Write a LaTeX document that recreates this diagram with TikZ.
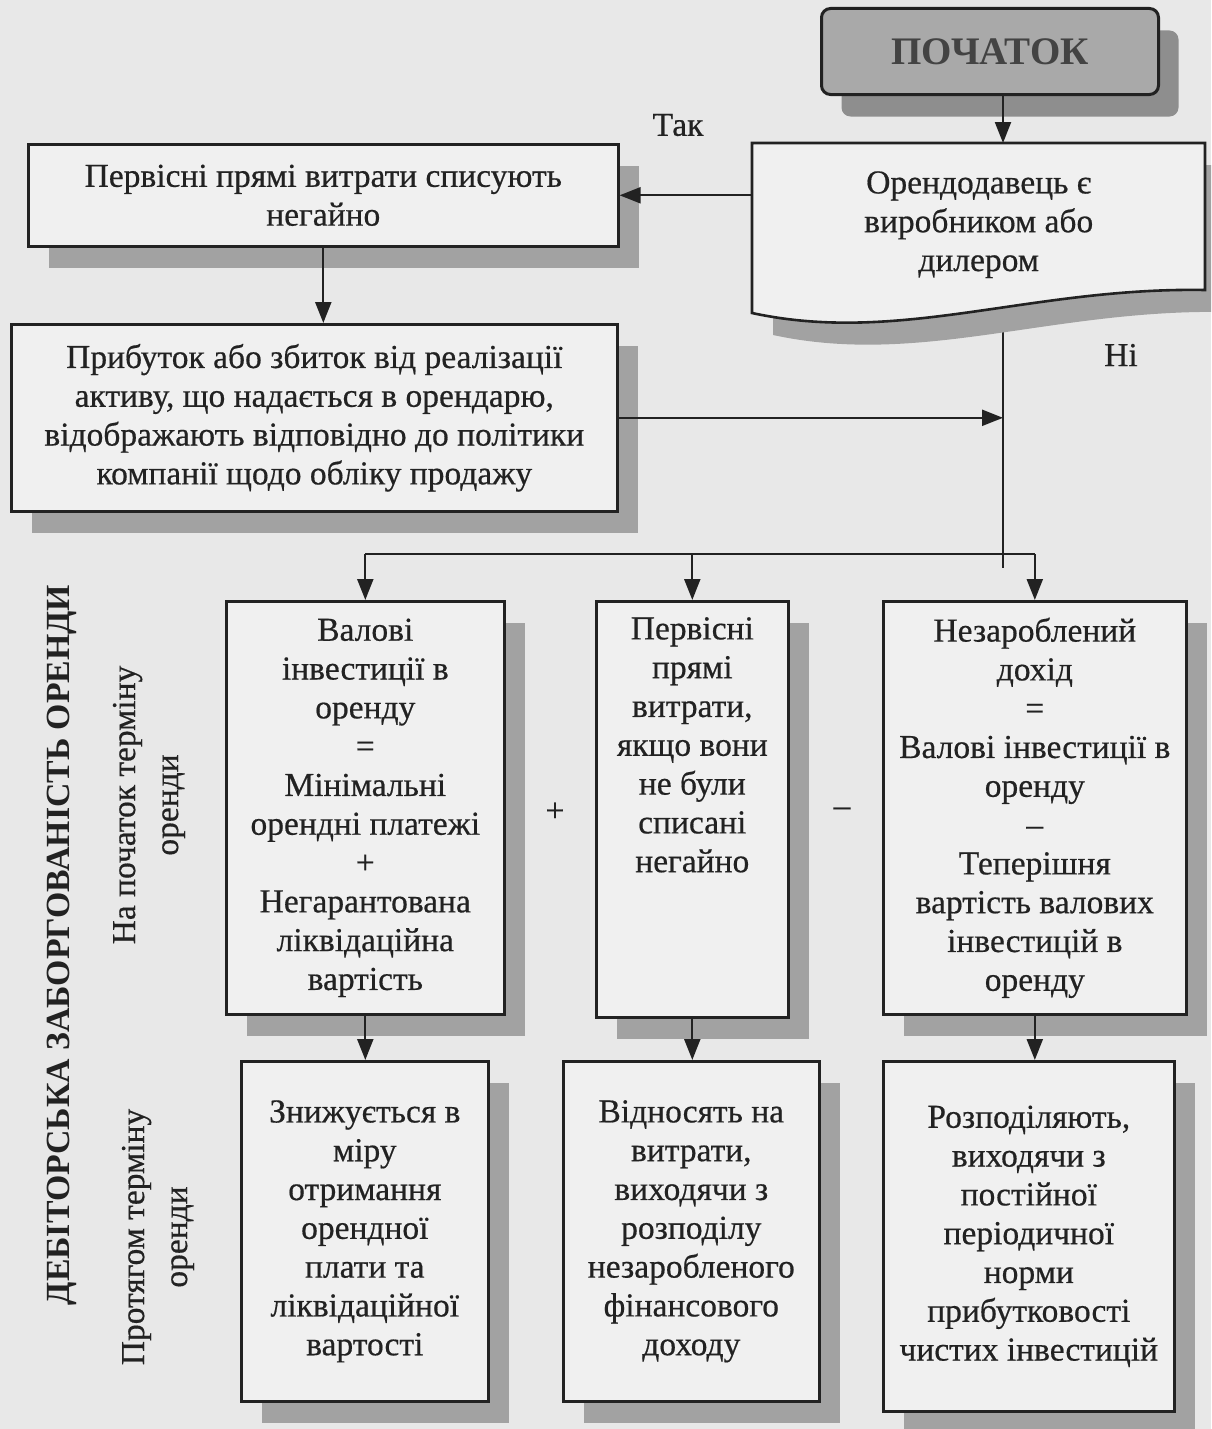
\documentclass[tikz,border=0pt]{standalone}
\usepackage{fontspec}
\setmainfont{Liberation Serif}
\newfontfamily\heavyserif{Liberation Serif}[FakeBold=0.5]
\usetikzlibrary{arrows.meta,shadows,calc}
\definecolor{bgcol}{HTML}{E8E8E8}
\definecolor{boxfill}{HTML}{F0F0F0}
\definecolor{shadowcol}{HTML}{A2A2A2}
\definecolor{startfill}{HTML}{A9A9A9}
\definecolor{startshadow}{HTML}{8E8E8E}
\definecolor{ink}{HTML}{222222}
\newcommand\txtsize{\heavyserif\fontsize{33.5pt}{38.8pt}\selectfont}
\newcommand\sidesize{\heavyserif\fontsize{33.5pt}{43pt}\selectfont}
\newcommand\titlesize{\fontsize{33.8pt}{38pt}\selectfont\bfseries}
\newcommand\startsize{\fontsize{39pt}{40pt}\selectfont\bfseries}

\begin{document}
\begin{tikzpicture}[x=1pt,y=-1pt,
  shade box/.style={drop shadow={shadow xshift=21pt,shadow yshift=-22pt,fill=shadowcol,opacity=1}},
  box/.style={shade box, draw=ink, line width=2.6pt, fill=boxfill, inner sep=0pt,
    anchor=north west, align=center, font=\txtsize, text=ink},
  startbox/.style={drop shadow={shadow xshift=20pt,shadow yshift=-22pt,fill=startshadow,opacity=1},
    draw=ink, line width=3pt, fill=startfill, rounded corners=9pt, inner sep=0pt,
    anchor=north west, font=\startsize, text=ink!85},
  conn/.style={draw=ink, line width=2.2pt},
  arr/.style={conn, -{Triangle[length=21pt,width=16pt]}},
  lbl/.style={font=\txtsize, text=ink, inner sep=0pt, align=center},
]
% page and background
\fill[bgcol] (0,0) rectangle (1211,1429);
\useasboundingbox (0,0) rectangle (1211,1429);
\clip (0,0) rectangle (1211,1429);

% start
\node[startbox, minimum width=337pt, minimum height=86pt] (start) at (820,7) {ПОЧАТОК};

% main trunk under the decision box
\coordinate (trunk) at (1003,0);
\coordinate (docbot) at (1003,311);
\coordinate (trunkend) at (1003,568);
\draw[conn] (docbot) -- (trunkend);

% decision box with a wavy (document) bottom
\path[shade box, fill=boxfill, draw=ink, line width=2.6pt]
  (752,143) -- (1205,143) -- (1205,290)
  .. controls (1030,287) and (900,345) .. (752,313) -- cycle;
\node[lbl, minimum width=453pt, minimum height=163pt, anchor=north west] (lessor) at (752,143)
  {Орендодавець є\\виробником або\\дилером};

% left branch
\node[box, minimum width=590pt, minimum height=102pt] (a) at (27,143)
  {Первісні прямі витрати списують\\негайно};
\node[box, minimum width=606pt, minimum height=187pt] (b) at (10,323)
  {Прибуток або збиток від реалізації\\активу, що надається в орендарю,\\відображають відповідно до політики\\компанії щодо обліку продажу};

% components at the start of the lease term
\node[box, minimum width=278pt, minimum height=413pt] (c1) at (225,600)
  {Валові\\інвестиції в\\оренду\\=\\Мінімальні\\орендні платежі\\+\\Негарантована\\ліквідаційна\\вартість};
\node[box, minimum width=192pt, minimum height=416pt] (c2) at (595,600) {};
\node[lbl, anchor=north] (c2t) at ($(c2.north)+(0,17)$)
  {Первісні\\прямі\\витрати,\\якщо вони\\не були\\списані\\негайно};
\node[box, minimum width=303pt, minimum height=413pt] (c3) at (882,600)
  {Незароблений\\дохід\\=\\Валові інвестиції в\\оренду\\–\\Теперішня\\вартість валових\\інвестицій в\\оренду};

% treatment during the lease term
\node[box, minimum width=247pt, minimum height=340pt] (d1) at (240,1060)
  {Знижується в\\міру\\отримання\\орендної\\плати та\\ліквідаційної\\вартості};
\node[box, minimum width=256pt, minimum height=340pt] (d2) at (562,1060)
  {Відносять на\\витрати,\\виходячи з\\розподілу\\незаробленого\\фінансового\\доходу};
\node[box, minimum width=291pt, minimum height=350pt] (d3) at (882,1060)
  {Розподіляють,\\виходячи з\\постійної\\періодичної\\норми\\прибутковості\\чистих інвестицій};

% operators between the components
\node[lbl] (plus) at (555,812) {+};
\node[lbl] (minus) at (842,812) {–};

% branch labels
\node[lbl] (yes) at (678,125) {Так};
\node[lbl] (no) at (1121,355) {Ні};

% side captions
\node[lbl, rotate=90, font=\titlesize] (title) at (62,945) {ДЕБІТОРСЬКА ЗАБОРГОВАНІСТЬ ОРЕНДИ};
\node[lbl, rotate=90, font=\sidesize] (startterm) at (149,805) {На початок терміну\\оренди};
\node[lbl, rotate=90, font=\sidesize] (duringterm) at (158,1237) {Протягом терміну\\оренди};

% connectors
\draw[arr] (start.south -| trunk) -- (lessor.north -| trunk);
\draw[arr] (a.east -| lessor.west) -- (a.east);
\draw[arr] (a.south) -- (a.south |- b.north);
\draw[arr] (b.east) -- (b.east -| trunk);
\coordinate (bus) at (0,554);
\draw[conn] (c1.north |- bus) -- (c3.north |- bus);
\draw[arr] (c1.north |- bus) -- (c1.north);
\draw[arr] (c2.north |- bus) -- (c2.north);
\draw[arr] (c3.north |- bus) -- (c3.north);
\draw[arr] (c1.south) -- (c1.south |- d1.north);
\draw[arr] (c2.south) -- (c2.south |- d2.north);
\draw[arr] (c3.south) -- (c3.south |- d3.north);
\end{tikzpicture}
\end{document}
